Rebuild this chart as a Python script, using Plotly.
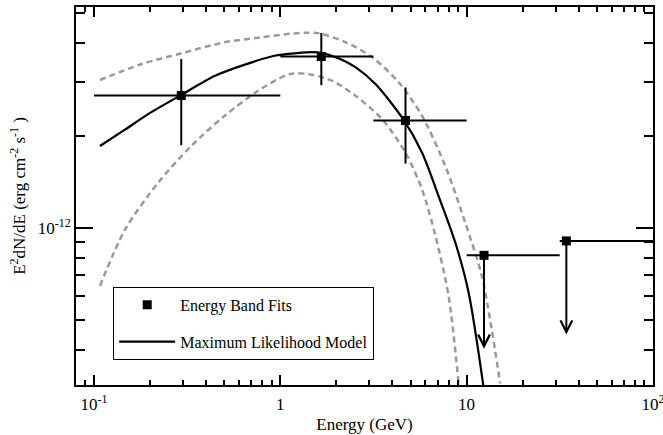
import numpy as np
import plotly.graph_objects as go

# ---- Energy band fits (detections) ----
band_E = [0.294, 1.66, 4.70]
band_flux = [2.70e-12, 3.62e-12, 2.24e-12]
band_E_lo = [0.1, 1.0, 3.16]
band_E_hi = [1.0, 3.16, 10.0]
band_flux_lo = [1.86e-12, 2.92e-12, 1.62e-12]
band_flux_hi = [3.55e-12, 4.32e-12, 2.87e-12]

# ---- Upper limits ----
ul_E = [12.4, 34.3]
ul_flux = [8.14e-13, 9.07e-13]
ul_E_lo = [10.0, 31.6]
ul_E_hi = [31.6, 100.0]
ul_arrow_tip = [4.04e-13, 4.49e-13]

# ---- Maximum likelihood model ----
model_E = [0.1076, 0.1466, 0.2000, 0.2911, 0.4436, 0.6166, 0.929, 1.189, 1.585,
           2.065, 2.541, 3.251, 4.603, 5.768, 7.079, 8.710, 10.26, 12.33]
model_flux = [1.849e-12, 2.09e-12, 2.37e-12, 2.704e-12, 3.126e-12, 3.373e-12,
              3.639e-12, 3.707e-12, 3.733e-12, 3.565e-12, 3.334e-12, 2.938e-12,
              2.244e-12, 1.758e-12, 1.268e-12, 8.93e-13, 6.14e-13, 3.03e-13]

# ---- Model uncertainty band (upper / lower) ----
upper_E = [0.1076, 0.1799, 0.2944, 0.5012, 0.7889, 1.189, 1.413, 1.622, 2.244,
           3.119, 4.325, 5.768, 7.691, 9.840, 12.08, 15.14]
upper_flux = [3.034e-12, 3.420e-12, 3.707e-12, 4.027e-12, 4.178e-12, 4.305e-12,
              4.325e-12, 4.305e-12, 4.027e-12, 3.597e-12, 2.979e-12, 2.317e-12,
              1.589e-12, 1.038e-12, 6.95e-13, 3.11e-13]
lower_E = [0.1076, 0.1466, 0.2208, 0.3327, 0.5012, 0.7568, 1.117, 1.429, 1.905,
           2.541, 3.524, 4.699, 5.768, 6.808, 8.017, 9.057]
lower_flux = [6.47e-13, 9.86e-13, 1.403e-12, 1.849e-12, 2.317e-12, 2.793e-12,
              3.170e-12, 3.170e-12, 3.013e-12, 2.692e-12, 2.259e-12, 1.758e-12,
              1.334e-12, 9.40e-13, 5.97e-13, 3.11e-13]

x_tickvals = [0.1, 1, 10, 100]
x_ticktext = ["10<sup>-1</sup>", "1", "10", "10<sup>2</sup>"]
y_tickvals = [1e-12]
y_ticktext = ["10<sup>-12</sup>"]

FONT = "Liberation Serif"
GREY = "#9a9a9a"

fig = go.Figure()

for xs, ys in [(upper_E, upper_flux), (lower_E, lower_flux)]:
    fig.add_trace(go.Scatter(
        x=xs, y=ys, mode="lines", showlegend=False, hoverinfo="skip",
        line=dict(color=GREY, width=2.5, dash="6px,4px", shape="spline", smoothing=0.8),
    ))

fig.add_trace(go.Scatter(
    x=model_E, y=model_flux, mode="lines", name="Maximum Likelihood Model",
    legendgroup="b", legendrank=2, showlegend=True,
    line=dict(color="black", width=2.2, shape="spline", smoothing=0.8),
))

def asym(vals, lo, hi):
    return (np.array(hi) - np.array(vals)).tolist(), (np.array(vals) - np.array(lo)).tolist()

bx_p, bx_m = asym(band_E, band_E_lo, band_E_hi)
by_p, by_m = asym(band_flux, band_flux_lo, band_flux_hi)
fig.add_trace(go.Scatter(
    x=band_E, y=band_flux, mode="markers", showlegend=False,
    marker=dict(symbol="square", size=9, color="black"),
    error_x=dict(type="data", symmetric=False, array=bx_p, arrayminus=bx_m,
                 color="black", thickness=2, width=0),
    error_y=dict(type="data", symmetric=False, array=by_p, arrayminus=by_m,
                 color="black", thickness=2, width=0),
))

ux_p, ux_m = asym(ul_E, ul_E_lo, ul_E_hi)
fig.add_trace(go.Scatter(
    x=ul_E, y=ul_flux, mode="markers", showlegend=False,
    marker=dict(symbol="square", size=9, color="black"),
    error_x=dict(type="data", symmetric=False, array=ux_p, arrayminus=ux_m,
                 color="black", thickness=2, width=0),
))

# legend entry for band fits
fig.add_trace(go.Scatter(
    x=[None], y=[None], mode="markers", name="Energy Band Fits",
    legendgroup="a", legendrank=1, marker=dict(symbol="square", size=9, color="black"),
))

for e, f, tip in zip(ul_E, ul_flux, ul_arrow_tip):
    fig.add_annotation(
        x=np.log10(e), y=np.log10(tip), ax=np.log10(e), ay=np.log10(f),
        xref="x", yref="y", axref="x", ayref="y", text="", showarrow=True,
        arrowhead=5, arrowsize=1.15, arrowwidth=2, arrowcolor="black", standoff=0,
    )

axis_common = dict(
    showline=True, linecolor="black", linewidth=2, mirror="ticks",
    ticks="inside", tickcolor="black", tickwidth=1.5,
    showgrid=False, zeroline=False, ticklabeloverflow="allow", automargin=False,
    tickfont=dict(family=FONT, size=17, color="black"),
)

fig.update_xaxes(
    type="log", range=[-1.0966, 2.0004],
    tickmode="array", tickvals=x_tickvals, ticktext=x_ticktext, ticklen=10,
    ticklabelstandoff=3,
    minor=dict(ticks="inside", ticklen=5, tickcolor="black", tickwidth=1.5,
               dtick="D1", showgrid=False),
    title=dict(text="Energy (GeV)", font=dict(family=FONT, size=17, color="black"), standoff=5),
    **axis_common,
)
fig.update_yaxes(
    type="log", range=[-12.512, -11.280],
    tickmode="array", tickvals=y_tickvals, ticktext=y_ticktext, ticklen=17,
    minor=dict(ticks="inside", ticklen=9, tickcolor="black", tickwidth=1.5,
               dtick="D1", showgrid=False),
    title=dict(text="E<sup>2</sup>dN/dE (erg cm<sup>-2</sup> s<sup>-1</sup> )",
               font=dict(family=FONT, size=17, color="black"), standoff=8),
    **axis_common,
)

fig.update_layout(
    width=663, height=435,
    margin=dict(l=76, r=10, t=7, b=50, autoexpand=False),
    paper_bgcolor="white", plot_bgcolor="white",
    font=dict(family=FONT, size=16, color="black"),
    legend=dict(
        x=0.0645, y=0.2597, xanchor="left", yanchor="top",
        bordercolor="black", borderwidth=1, bgcolor="white",
        traceorder="grouped", tracegroupgap=13, itemwidth=56,
        font=dict(family=FONT, size=16, color="black"),
    ),
)

fig.write_html("out.html")
